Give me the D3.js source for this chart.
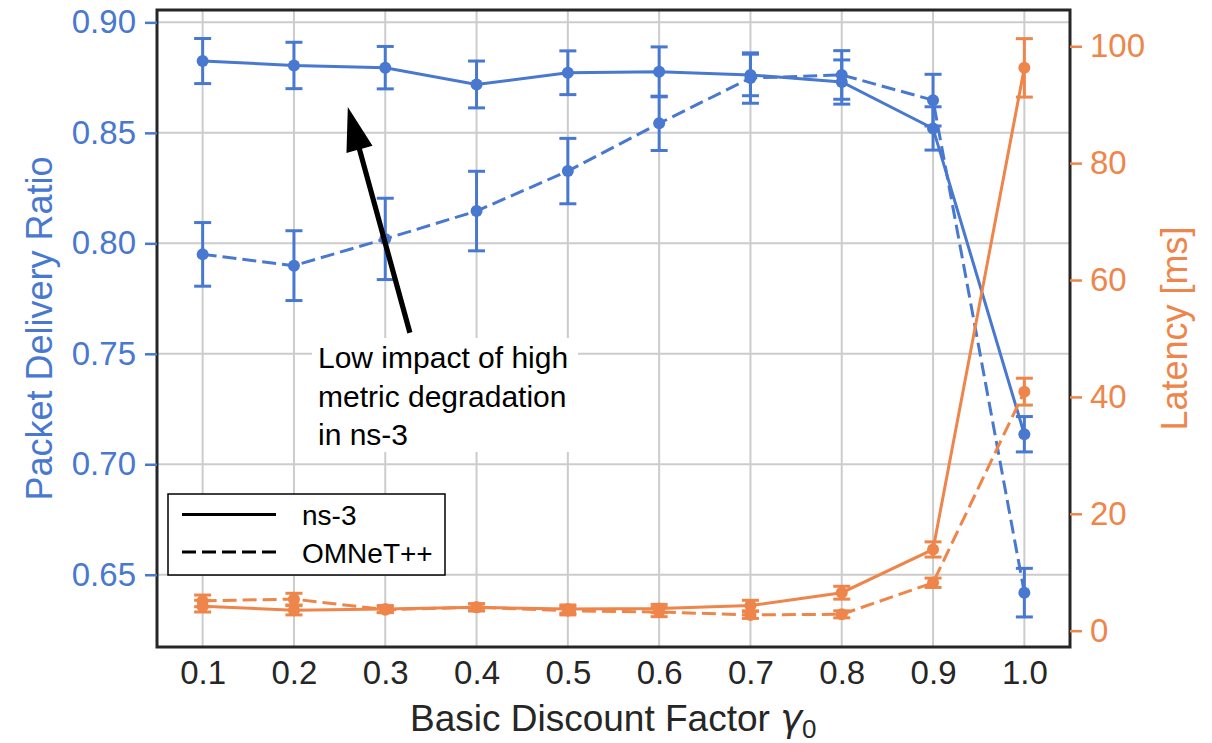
<!DOCTYPE html>
<html>
<head>
<meta charset="utf-8">
<script src="https://cdn.jsdelivr.net/npm/d3@7"></script>
<style>
  body { margin: 0; background: #fff; }
  text { font-family: "Liberation Sans", Arial, sans-serif; }
</style>
</head>
<body>
<svg id="chart"></svg>
<script>
// Constants
const width = 1212;
const height = 743;
const margin = {left: 157, right: 1070, top: 10, bottom: 647};
const blue = "#4878d0";
const orange = "#ee854a";
const ink = "#262626";

// Data
const gammas = [0.1, 0.2, 0.3, 0.4, 0.5, 0.6, 0.7, 0.8, 0.9, 1.0];
const pdrNs3 = [0.8825, 0.8805, 0.8795, 0.8719, 0.8772, 0.8776, 0.8762, 0.8730, 0.8520, 0.7136];
const pdrNs3Err = [0.0102, 0.0105, 0.0096, 0.0106, 0.0099, 0.0113, 0.0094, 0.0100, 0.0098, 0.0080];
const pdrOmnet = [0.7950, 0.7899, 0.8020, 0.8146, 0.8327, 0.8543, 0.8748, 0.8762, 0.8648, 0.6419];
const pdrOmnetErr = [0.0144, 0.0158, 0.0184, 0.0180, 0.0148, 0.0123, 0.0114, 0.0110, 0.0117, 0.0110];
const latNs3 = [4.2, 3.5, 3.7, 4.0, 3.7, 3.8, 4.3, 6.5, 13.9, 96.3];
const latNs3Err = [1.0, 0.8, 0.6, 0.6, 0.7, 0.7, 0.9, 1.1, 1.3, 5.0];
const latOmnet = [5.1, 5.4, 3.6, 4.0, 3.4, 3.2, 2.7, 2.8, 8.2, 40.9];
const latOmnetErr = [1.0, 1.0, 0.5, 0.6, 0.7, 0.8, 0.6, 0.6, 0.8, 2.3];

const pdrTicks = [0.65, 0.70, 0.75, 0.80, 0.85, 0.90];
const latTicks = [0, 20, 40, 60, 80, 100];
const legendLabels = ["ns-3", "OMNeT++"];
const noteLines = ["Low impact of high", "metric degradation", "in ns-3"];

// Scales
const x = d3.scaleLinear().domain([0.05, 1.05]).range([margin.left, margin.right]);
const yL = d3.scaleLinear().domain([0.6173, 0.9056]).range([margin.bottom, margin.top]);
const yR = d3.scaleLinear().domain([-2.79, 106.2]).range([margin.bottom, margin.top]);

const svg = d3.select("#chart")
  .attr("width", width)
  .attr("height", height)
  .attr("viewBox", [0, 0, width, height]);

// Grid
const grid = svg.append("g").attr("stroke", "#cccccc").attr("stroke-width", 2);
grid.selectAll("line.v").data(gammas).join("line")
  .attr("x1", d => x(d)).attr("x2", d => x(d))
  .attr("y1", margin.top).attr("y2", margin.bottom);
grid.selectAll("line.h").data(pdrTicks).join("line")
  .attr("x1", margin.left).attr("x2", margin.right)
  .attr("y1", d => yL(d)).attr("y2", d => yL(d));

/**
 * Draws one series with error bars and markers
 */
function drawSeries(values, errs, yScale, color, dashed) {
  const g = svg.append("g");
  const pts = gammas.map((gm, i) => ({x: gm, y: values[i], e: errs[i]}));
  g.append("path")
    .datum(pts)
    .attr("fill", "none")
    .attr("stroke", color)
    .attr("stroke-width", 3)
    .attr("stroke-dasharray", dashed ? "14,6" : null)
    .attr("d", d3.line().x(d => x(d.x)).y(d => yScale(d.y)));
  const eb = g.append("g").attr("stroke", color).attr("stroke-width", 3);
  eb.selectAll("line.bar").data(pts).join("line")
    .attr("x1", d => x(d.x)).attr("x2", d => x(d.x))
    .attr("y1", d => yScale(d.y - d.e)).attr("y2", d => yScale(d.y + d.e));
  [-1, 1].forEach(s => {
    eb.selectAll("line.cap" + s).data(pts).join("line")
      .attr("x1", d => x(d.x) - 8.5).attr("x2", d => x(d.x) + 8.5)
      .attr("y1", d => yScale(d.y + s * d.e)).attr("y2", d => yScale(d.y + s * d.e));
  });
  g.selectAll("circle").data(pts).join("circle")
    .attr("cx", d => x(d.x)).attr("cy", d => yScale(d.y))
    .attr("r", 6).attr("fill", color);
}

drawSeries(pdrOmnet, pdrOmnetErr, yL, blue, true);
drawSeries(pdrNs3, pdrNs3Err, yL, blue, false);
drawSeries(latOmnet, latOmnetErr, yR, orange, true);
drawSeries(latNs3, latNs3Err, yR, orange, false);

// Annotation box and text
const noteX = 318, noteY = 368, noteStep = 38.5;
svg.append("rect")
  .attr("x", 312).attr("y", 338).attr("width", 266).attr("height", 114)
  .attr("fill", "#fff");
svg.append("g").selectAll("text").data(noteLines).join("text")
  .attr("x", noteX).attr("y", (d, i) => noteY + i * noteStep)
  .attr("font-size", 30).attr("fill", "#000")
  .text(d => d);

// Arrow (annotate from text to point)
const tip = [x(0.259), yL(0.8617)];
const tail = [x(0.327), yL(0.7595)];
(function drawArrow() {
  const dx = tip[0] - tail[0], dy = tip[1] - tail[1];
  const len = Math.hypot(dx, dy);
  const ux = dx / len, uy = dy / len, px = -uy, py = ux;
  const headLen = 44, headW = 13.5, shaftW = 2.6;
  const bx = tip[0] - ux * headLen, by = tip[1] - uy * headLen;
  const pts = [
    [tail[0] + px * shaftW, tail[1] + py * shaftW],
    [bx + px * shaftW, by + py * shaftW],
    [bx + px * headW, by + py * headW],
    tip,
    [bx - px * headW, by - py * headW],
    [bx - px * shaftW, by - py * shaftW],
    [tail[0] - px * shaftW, tail[1] - py * shaftW]
  ];
  svg.append("polygon").attr("points", pts.map(p => p.join(",")).join(" ")).attr("fill", "#000");
})();

// Legend
const legend = svg.append("g");
legend.append("rect")
  .attr("x", 168).attr("y", 494).attr("width", 277).attr("height", 81)
  .attr("fill", "#fff").attr("stroke", "#000").attr("stroke-width", 1.5);
legendLabels.forEach((lab, i) => {
  const ly = 514.5 + i * 37.5;
  legend.append("line")
    .attr("x1", 182).attr("x2", 276).attr("y1", ly).attr("y2", ly)
    .attr("stroke", "#000").attr("stroke-width", 3)
    .attr("stroke-dasharray", i === 1 ? "14,6" : null);
  legend.append("text")
    .attr("x", 302).attr("y", ly + 10.5)
    .attr("font-size", 28).attr("fill", "#000")
    .text(lab);
});

// Spines
svg.append("rect")
  .attr("x", margin.left).attr("y", margin.top)
  .attr("width", margin.right - margin.left).attr("height", margin.bottom - margin.top)
  .attr("fill", "none").attr("stroke", ink).attr("stroke-width", 3);

// Left axis
const leftAxis = svg.append("g")
  .attr("transform", `translate(${margin.left},0)`)
  .call(d3.axisLeft(yL).tickValues(pdrTicks).tickFormat(d3.format(".2f")).tickSize(12).tickPadding(9));
leftAxis.select(".domain").remove();
leftAxis.selectAll("line").attr("stroke", blue).attr("stroke-width", 2.5);
leftAxis.selectAll("text").attr("fill", blue).attr("font-size", 33)
  .attr("font-family", "Liberation Sans, Arial, sans-serif");

// Right axis
const rightAxis = svg.append("g")
  .attr("transform", `translate(${margin.right},0)`)
  .call(d3.axisRight(yR).tickValues(latTicks).tickSize(12).tickPadding(8));
rightAxis.select(".domain").remove();
rightAxis.selectAll("line").attr("stroke", orange).attr("stroke-width", 2.5);
rightAxis.selectAll("text").attr("fill", orange).attr("font-size", 33)
  .attr("font-family", "Liberation Sans, Arial, sans-serif");

// Bottom axis (labels only)
const bottomAxis = svg.append("g")
  .attr("transform", `translate(0,${margin.bottom})`)
  .call(d3.axisBottom(x).tickValues(gammas).tickFormat(d3.format(".1f")).tickSize(0).tickPadding(14));
bottomAxis.select(".domain").remove();
bottomAxis.selectAll("text").attr("fill", ink).attr("font-size", 33)
  .attr("font-family", "Liberation Sans, Arial, sans-serif");

// Axis titles
svg.append("text")
  .attr("transform", `translate(52,${(margin.top + margin.bottom) / 2}) rotate(-90)`)
  .attr("text-anchor", "middle").attr("font-size", 36).attr("fill", blue)
  .text("Packet Delivery Ratio");

svg.append("text")
  .attr("transform", `translate(1187,${(margin.top + margin.bottom) / 2}) rotate(-90)`)
  .attr("text-anchor", "middle").attr("font-size", 36).attr("fill", orange)
  .text("Latency [ms]");

const xLabel = svg.append("text")
  .attr("x", 410).attr("y", 731)
  .attr("font-size", 37).attr("fill", ink);
xLabel.append("tspan").text("Basic Discount Factor ");
xLabel.append("tspan").attr("font-style", "italic").attr("font-family", "DejaVu Sans").text("γ");
xLabel.append("tspan").attr("font-size", 26).attr("dy", 7).text("0");
</script>
</body>
</html>
